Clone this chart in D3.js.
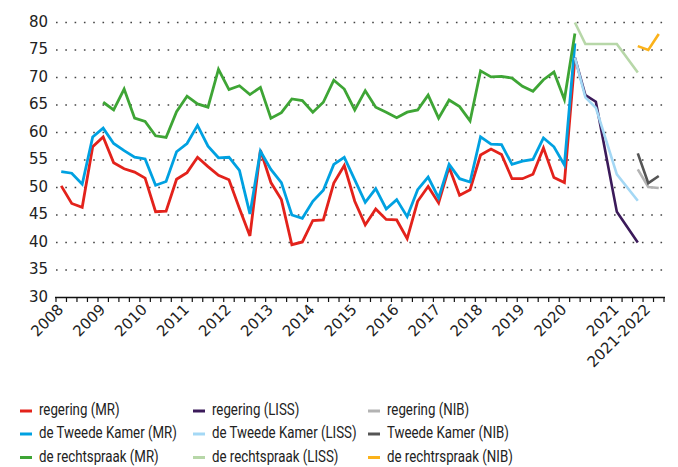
<!DOCTYPE html>
<html>
<head>
<meta charset="utf-8">
<script src="https://cdn.jsdelivr.net/npm/d3@7/dist/d3.min.js"></script>
<style>
  html, body { margin: 0; padding: 0; background: #fff; }
  svg { display: block; }
  .num { font-family: "DejaVu Sans", sans-serif; font-size: 15px; fill: #222; }
  .leg { font-family: Roboto, sans-serif; font-size: 16px; fill: #222; }
</style>
</head>
<body>
<div id="chart"></div>
<script>
// quarterly periods, 2008 Q1 .. 2022
const periods = d3.range(58)
const xLabels = [
  [0, '2008'], [4, '2009'], [8, '2010'], [12, '2011'], [16, '2012'], [20, '2013'],
  [24, '2014'], [28, '2015'], [32, '2016'], [36, '2017'], [40, '2018'], [44, '2019'],
  [48, '2020'], [53, '2021'], [56, '2021-2022']
]
const yTicks = [30, 35, 40, 45, 50, 55, 60, 65, 70, 75, 80]

// MR (from period 0)
const regeringMR = [50.3, 47.1, 46.4, 57.4, 59.2, 54.5, 53.4, 52.8, 51.7, 45.6, 45.7, 51.5, 52.7, 55.5, 53.8, 52.2,
  51.4, 46.2, 41.2, 56.8, 50.9, 47.8, 39.6, 40.1, 44.0, 44.1, 50.8, 54.0, 47.5, 43.2, 46.1, 44.2, 44.1, 40.7,
  47.5, 50.2, 47.2, 53.7, 48.6, 49.6, 55.9, 57.0, 56.0, 51.6, 51.6, 52.4, 57.2, 51.8, 50.9, 73.5]
const kamerMR = [52.9, 52.6, 50.6, 59.2, 60.8, 58.0, 56.7, 55.5, 55.2, 50.4, 51.1, 56.5, 58.0, 61.3, 57.5, 55.4,
  55.5, 53.1, 45.2, 56.6, 53.3, 50.9, 45.0, 44.4, 47.5, 49.5, 54.2, 55.5, 51.4, 47.3, 49.8, 46.1, 47.8, 44.7,
  49.6, 51.9, 48.1, 54.2, 51.6, 51.0, 59.2, 57.9, 57.8, 54.2, 54.8, 55.1, 59.0, 57.4, 54.1, 76.2]
// from period 4
const rechtspraakMR = [65.5, 64.1, 67.9, 62.6, 62.0, 59.4, 59.1, 63.8, 66.6, 65.2, 64.6, 71.5, 67.8, 68.5, 66.9,
  68.2, 62.6, 63.6, 66.1, 65.8, 63.7, 65.5, 69.5, 67.9, 64.1, 67.6, 64.6, 63.7, 62.7, 63.7, 64.1, 66.8, 62.6,
  65.9, 64.7, 62.1, 71.2, 70.1, 70.2, 69.9, 68.4, 67.5, 69.6, 71.0, 66.0, 78.0]

// LISS (from period 49, null = no measurement)
const regeringLISS = [73.6, 66.8, 65.6, null, 45.6, null, 40.0]
const kamerLISS = [73.6, 66.4, 64.5, null, 52.4, null, 47.6]
const rechtspraakLISS = [80.0, 76.1, 76.1, null, 76.1, null, 70.9]

// NIB (from period 55)
const regeringNIB = [53.3, 50.1, 49.9]
const kamerNIB = [56.2, 50.8, 52.1]
const rechtspraakNIB = [75.7, 75.0, 77.9]

const series = [
  { name: 'regering (MR)', color: '#e3221b', start: 0, values: regeringMR, w: 2.8 },
  { name: 'de Tweede Kamer (MR)', color: '#00a1e1', start: 0, values: kamerMR, w: 2.8 },
  { name: 'de rechtspraak (MR)', color: '#3ea535', start: 4, values: rechtspraakMR, w: 2.8 },
  { name: 'regering (LISS)', color: '#3b1a5a', start: 49, values: regeringLISS, w: 2.6 },
  { name: 'de Tweede Kamer (LISS)', color: '#a4d8f5', start: 49, values: kamerLISS, w: 2.6 },
  { name: 'de rechtspraak (LISS)', color: '#b7d7a8', start: 49, values: rechtspraakLISS, w: 2.6 },
  { name: 'regering (NIB)', color: '#b3b3b3', start: 55, values: regeringNIB, w: 2.6 },
  { name: 'Tweede Kamer (NIB)', color: '#555555', start: 55, values: kamerNIB, w: 2.6 },
  { name: 'de rechtrspraak (NIB)', color: '#fbb21a', start: 55, values: rechtspraakNIB, w: 2.6 }
]

const W = 678, H = 467
const svg = d3.select('#chart').append('svg').attr('width', W).attr('height', H)

const x = d3.scaleBand().domain(periods).range([56, 664]).paddingInner(0).paddingOuter(0)
const y = d3.scaleLinear().domain([30, 80]).range([297.5, 22.5])
const cx = i => x(i) + x.bandwidth() / 2

// dotted grid
svg.append('g')
  .selectAll('line')
  .data(yTicks.filter(v => v > 30))
  .join('line')
  .attr('x1', 56).attr('x2', 664)
  .attr('y1', d => y(d)).attr('y2', d => y(d))
  .attr('stroke', '#444')
  .attr('stroke-width', 1.6)
  .attr('stroke-dasharray', '1.6 7.7')

// y labels
svg.append('g')
  .selectAll('text')
  .data(yTicks)
  .join('text')
  .attr('class', 'num')
  .attr('x', 48)
  .attr('y', d => y(d) + 4)
  .attr('text-anchor', 'end')
  .text(d => d)

// x axis line + ticks at band edges
const xAxis = svg.append('g')
xAxis.append('line')
  .attr('x1', 55).attr('x2', 665)
  .attr('y1', y(30)).attr('y2', y(30))
  .attr('stroke', '#111').attr('stroke-width', 1.6)
xAxis.selectAll('line.tick')
  .data(d3.range(periods.length + 1))
  .join('line')
  .attr('class', 'tick')
  .attr('x1', d => 56 + d * x.bandwidth()).attr('x2', d => 56 + d * x.bandwidth())
  .attr('y1', y(30)).attr('y2', y(30) + 4.5)
  .attr('stroke', '#111').attr('stroke-width', 1.2)

xAxis.selectAll('text')
  .data(xLabels)
  .join('text')
  .attr('class', 'num')
  .attr('text-anchor', 'end')
  .attr('transform', d => `translate(${cx(d[0]) + 3},${y(30) + 13}) rotate(-45)`)
  .text(d => d[1])

// lines
const line = d3.line().x(d => cx(d.i)).y(d => y(d.v))
svg.append('g')
  .selectAll('path')
  .data(series)
  .join('path')
  .attr('fill', 'none')
  .attr('stroke', d => d.color)
  .attr('stroke-width', d => d.w)
  .attr('d', s => line(s.values.map((v, k) => ({ i: s.start + k, v })).filter(p => p.v != null)))

// legend, 3 columns (text squeezed to mimic the condensed house font)
const cols = [20, 193, 368]
const rows = [415, 438, 461.5]
const leg = svg.append('g')
  .selectAll('g')
  .data(series)
  .join('g')
  .attr('transform', (d, k) => `translate(${cols[Math.floor(k / 3)]},${rows[k % 3]})`)
leg.append('line')
  .attr('x1', 0).attr('x2', 12)
  .attr('y1', -4).attr('y2', -4)
  .attr('stroke', d => d.color)
  .attr('stroke-width', 3)
leg.append('text')
  .attr('class', 'leg')
  .attr('transform', 'translate(19,0) scale(0.83,1)')
  .text(d => d.name)
</script>
</body>
</html>
